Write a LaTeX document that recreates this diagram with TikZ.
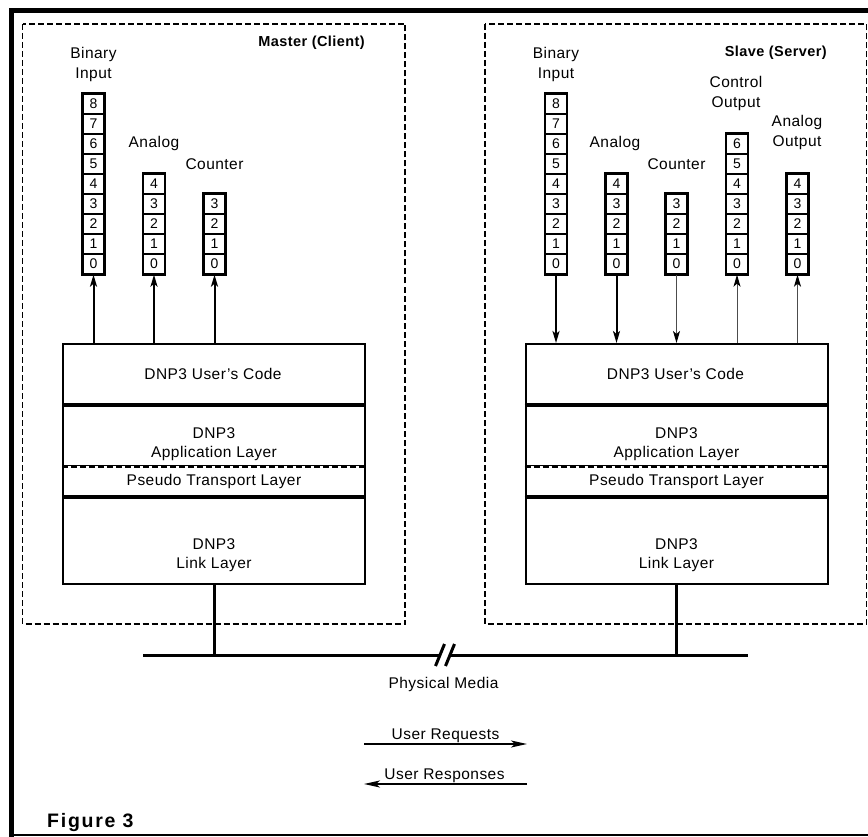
\documentclass[tikz,border=0pt]{standalone}
\usepackage{fontspec}
\setmainfont{Liberation Sans}[LetterSpace=3]
\usetikzlibrary{arrows.meta}
\newcommand\lblf{\fontsize{15.5}{19.5}\selectfont}
\newcommand\cellf{\fontsize{14}{16}\selectfont}
\newcommand\ttlf{\fontsize{14.5}{18}\selectfont\bfseries}
\begin{document}
\begin{tikzpicture}[x=1pt,y=-1pt,
  cell/.style={draw, line width=1.4pt, minimum width=21pt, minimum height=20pt, inner sep=0pt, font=\cellf},
  lbl/.style={font=\lblf, align=center, inner sep=0pt},
  ttl/.style={font=\ttlf, inner sep=0pt},
  layerbox/.style={draw, line width=2pt, minimum width=302pt, inner sep=0pt},
  sepline/.style={line width=3pt},
  sepdash/.style={line width=1.3pt, dash pattern=on 6pt off 3pt},
  zone/.style={line width=1.4pt, dash pattern=on 6pt off 3pt},
  thickarrow/.style={line width=2pt, -{Stealth[length=12pt,width=7pt,inset=3pt]}},
  thinarrow/.style={line width=1pt, black!70, -{Stealth[length=12pt,width=7pt,inset=3pt,black]}},
  bus/.style={line width=3pt},
  legarrow/.style={line width=2pt, -{Stealth[length=16pt,width=7pt,inset=4pt]}}
]
\useasboundingbox (0,0) rectangle (868,837);
% outer frame
\draw[line width=5pt] (11.5,837) -- (11.5,11) -- (868,11);
\draw[line width=1.5pt] (11.5,835) -- (868,835);
% zones
\draw[zone] (22.5,24) rectangle (405,624);
\draw[zone] (485,24) rectangle (866.5,624);
\node[ttl, anchor=base east] (mtitle) at (365,47) {Master (Client)};
\node[ttl, anchor=base east] (stitle) at (827,57) {Slave (Server)};

% ---------- Master registers
\foreach \k in {0,...,8} \node[cell] (mbi\k) at (93.5,{264-20*\k}) {\k};
\foreach \k in {0,...,4} \node[cell] (ma\k) at (154,{264-20*\k}) {\k};
\foreach \k in {0,...,3} \node[cell] (mc\k) at (214.5,{264-20*\k}) {\k};
\draw[line width=2pt] (mbi8.north west) rectangle (mbi0.south east);
\draw[line width=2pt] (ma4.north west) rectangle (ma0.south east);
\draw[line width=2pt] (mc3.north west) rectangle (mc0.south east);
\node[lbl] (mbil) at (93.5,64.5) {Binary\\Input};
\node[lbl] (mal) at (154,143) {Analog};
\node[lbl] (mcl) at (214.5,164) {Counter};

% ---------- Slave registers
\foreach \k in {0,...,8} \node[cell] (sbi\k) at (556,{264-20*\k}) {\k};
\foreach \k in {0,...,4} \node[cell] (sa\k) at (616.5,{264-20*\k}) {\k};
\foreach \k in {0,...,3} \node[cell] (sc\k) at (676.5,{264-20*\k}) {\k};
\foreach \k in {0,...,6} \node[cell] (sco\k) at (737,{264-20*\k}) {\k};
\foreach \k in {0,...,4} \node[cell] (sao\k) at (797.5,{264-20*\k}) {\k};
\draw[line width=2pt] (sbi8.north west) rectangle (sbi0.south east);
\draw[line width=2pt] (sa4.north west) rectangle (sa0.south east);
\draw[line width=2pt] (sc3.north west) rectangle (sc0.south east);
\draw[line width=2pt] (sco6.north west) rectangle (sco0.south east);
\draw[line width=2pt] (sao4.north west) rectangle (sao0.south east);
\node[lbl] (sbil) at (556,64.5) {Binary\\Input};
\node[lbl] (sal) at (615,143) {Analog};
\node[lbl] (scl) at (676.5,164) {Counter};
\node[lbl] (scol) at (736,93.5) {Control\\Output};
\node[lbl] (saol) at (797,132.5) {Analog\\Output};

% ---------- Master stack
\node[layerbox, minimum height=60pt] (mcode) at (214,374) {};
\node[layerbox, minimum height=62pt] (mapp) at (214,435) {};
\node[layerbox, minimum height=30pt] (mpt) at (214,481) {};
\node[layerbox, minimum height=88pt] (mlink) at (214,540) {};
\draw[sepline] (mcode.south west) -- (mcode.south east);
\draw[line width=2pt, white] ([xshift=2pt]mapp.south west) -- ([xshift=-2pt]mapp.south east);
\draw[sepdash] (mapp.south west) -- (mapp.south east);
\draw[sepline] (mpt.south west) -- (mpt.south east);
\node[lbl] (mcodet) at (213,374) {DNP3 User's Code};
\node[lbl] (mappt) at (214,444) {DNP3\\Application Layer};
\node[lbl] (mptt) at (214,481) {Pseudo Transport Layer};
\node[lbl] (mlinkt) at (214,555) {DNP3\\Link Layer};

% ---------- Slave stack
\node[layerbox, minimum height=60pt] (scode) at (676.5,374) {};
\node[layerbox, minimum height=62pt] (sapp) at (676.5,435) {};
\node[layerbox, minimum height=30pt] (spt) at (676.5,481) {};
\node[layerbox, minimum height=88pt] (slink) at (676.5,540) {};
\draw[sepline] (scode.south west) -- (scode.south east);
\draw[line width=2pt, white] ([xshift=2pt]sapp.south west) -- ([xshift=-2pt]sapp.south east);
\draw[sepdash] (sapp.south west) -- (sapp.south east);
\draw[sepline] (spt.south west) -- (spt.south east);
\node[lbl] (scodet) at (675.5,374) {DNP3 User's Code};
\node[lbl] (sappt) at (676.5,444) {DNP3\\Application Layer};
\node[lbl] (sptt) at (676.5,481) {Pseudo Transport Layer};
\node[lbl] (slinkt) at (676.5,555) {DNP3\\Link Layer};

% ---------- arrows
\draw[thickarrow] (mbi0 |- mcode.north) -- (mbi0.south);
\draw[thickarrow] (ma0 |- mcode.north) -- (ma0.south);
\draw[thickarrow] (mc0 |- mcode.north) -- (mc0.south);
\draw[thickarrow] (sbi0.south) -- (sbi0 |- scode.north);
\draw[thickarrow] (sa0.south) -- (sa0 |- scode.north);
\draw[thinarrow] (sc0.south) -- (sc0 |- scode.north);
\draw[thinarrow] (sco0 |- scode.north) -- (sco0.south);
\draw[thinarrow] (sao0 |- scode.north) -- (sao0.south);

% ---------- physical media
\coordinate (busL) at (143,655);
\coordinate (busR) at (748,655);
\coordinate (brkA) at (440,655);
\coordinate (brkB) at (450,655);
\draw[bus] (busL) -- (brkA);
\draw[bus] (brkB) -- (busR);
\draw[bus] ([shift={(-4.5,11)}]brkA) -- ([shift={(4.5,-11)}]brkA);
\draw[bus] ([shift={(-4.5,11)}]brkB) -- ([shift={(4.5,-11)}]brkB);
\draw[bus] (mlink.south) -- (mlink.south |- busL);
\draw[bus] (slink.south) -- (slink.south |- busL);
\node[lbl] (pm) at (443.5,684) {Physical Media};

% ---------- legend
\coordinate (rqL) at (364,744);
\coordinate (rqR) at (527,744);
\coordinate (rsL) at (364,784);
\coordinate (rsR) at (527,784);
\draw[legarrow] (rqL) -- (rqR);
\draw[legarrow] (rsR) -- (rsL);
\node[lbl, anchor=base] (rqt) at (445.5,739.5) {User Requests};
\node[lbl, anchor=base] (rst) at (444.5,779.5) {User Responses};

\node[font=\fontsize{19.5}{22}\selectfont\bfseries\addfontfeatures{LetterSpace=9}, anchor=base west, inner sep=0pt] (fig) at (47,827) {Figure 3};
\end{tikzpicture}
\end{document}
